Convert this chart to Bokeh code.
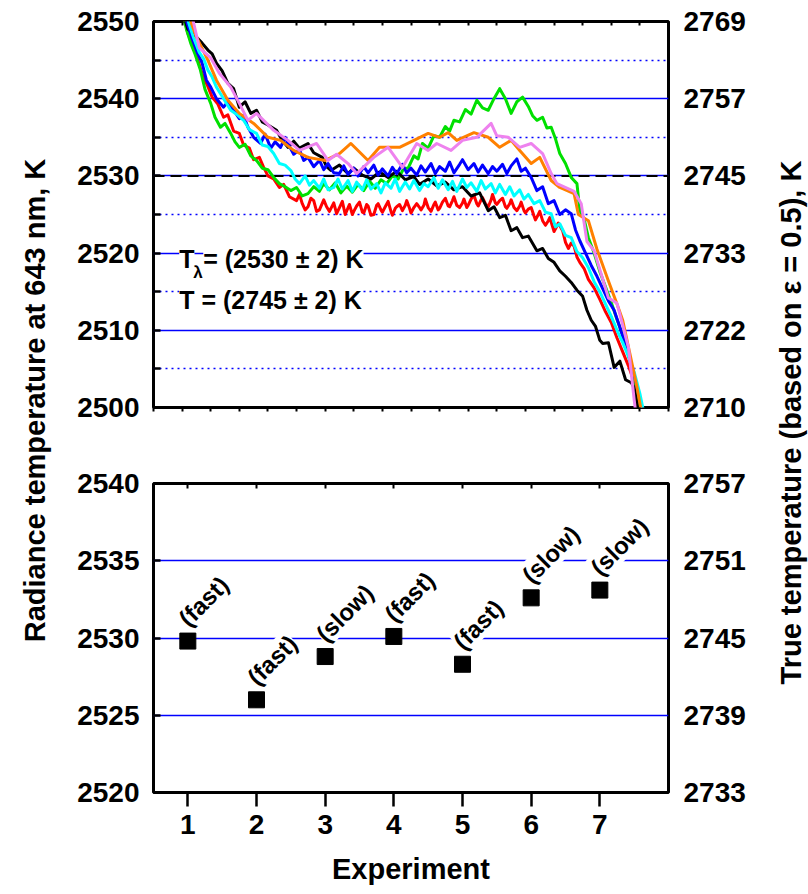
from bokeh.plotting import figure
from bokeh.models import Range1d, LinearAxis, FixedTicker, Label, Span, Grid
from bokeh.layouts import row, column
from bokeh.embed import file_html
from bokeh.resources import INLINE

FONT = "Liberation Sans"

# ---------------- data: top panel (radiance temperature traces) ----------------
black = [(1.0, 2551.5), (1.2, 2549.0), (1.45, 2548.2), (1.7, 2547.2), (1.9, 2546.3), (2.05, 2545.8),
         (2.2, 2544.6), (2.4, 2543.6), (2.6, 2542.0), (2.8, 2541.3), (3.0, 2538.9), (3.2, 2539.6),
         (3.4, 2538.1), (3.6, 2538.5), (3.8, 2537.0), (4.0, 2536.6), (4.3, 2535.9), (4.5, 2534.6),
         (4.7, 2533.7), (4.9, 2534.5), (5.1, 2533.6), (5.4, 2534.2), (5.6, 2533.0), (5.9, 2532.4),
         (6.05, 2531.2), (6.2, 2530.7), (6.5, 2531.4), (6.8, 2530.3), (7.0, 2531.0), (7.3, 2530.1),
         (7.6, 2529.6), (7.9, 2530.5), (8.2, 2529.8), (8.5, 2530.6), (8.8, 2529.5), (9.1, 2529.9),
         (9.3, 2528.9), (9.6, 2529.6), (9.9, 2528.7), (10.2, 2529.2), (10.5, 2528.2), (10.8, 2528.6),
         (11.1, 2527.4), (11.4, 2527.8), (11.7, 2525.5), (11.9, 2526.0), (12.1, 2524.6), (12.3, 2524.9),
         (12.5, 2522.9), (12.7, 2523.3), (12.9, 2522.0), (13.1, 2522.2), (13.4, 2520.3), (13.6, 2520.6),
         (13.8, 2519.3), (14.0, 2518.8), (14.2, 2517.7), (14.4, 2517.0), (14.6, 2516.2), (14.8, 2515.2),
         (15.0, 2514.4), (15.15, 2512.6), (15.3, 2511.3), (15.45, 2510.5), (15.6, 2508.7), (15.7, 2508.3),
         (15.9, 2508.4), (16.1, 2505.2), (16.3, 2506.0), (16.5, 2503.6), (16.7, 2503.2), (16.8, 2502.6),
         (16.95, 2499.5)]

red = [(1.0, 2551.5), (1.2, 2548.5), (1.4, 2546.6), (1.55, 2545.0), (1.75, 2542.7), (1.9, 2541.6),
       (2.05, 2540.2), (2.25, 2539.3), (2.45, 2537.6), (2.6, 2537.9), (2.8, 2535.8), (3.0, 2535.5),
       (3.15, 2534.0), (3.35, 2533.6), (3.5, 2532.1), (3.7, 2532.4), (3.85, 2531.1), (4.0, 2530.0),
       (4.2, 2529.6), (4.4, 2528.5), (4.55, 2528.9), (4.75, 2527.3), (5.0, 2526.8), (5.1, 2527.6),
       (5.2, 2526.4), (5.3, 2525.6), (5.4, 2526.0), (5.5, 2527.1), (5.6, 2526.8), (5.7, 2525.4),
       (5.8, 2525.6), (5.95, 2526.9), (6.05, 2526.0), (6.15, 2525.4), (6.3, 2526.5), (6.4, 2525.1),
       (6.5, 2525.9), (6.6, 2526.7), (6.7, 2525.0), (6.85, 2526.3), (6.95, 2525.0), (7.0, 2525.4),
       (7.1, 2526.1), (7.2, 2526.6), (7.3, 2525.3), (7.35, 2525.2), (7.45, 2526.3), (7.5, 2526.1),
       (7.6, 2524.9), (7.7, 2525.0), (7.8, 2526.2), (7.85, 2526.4), (7.95, 2525.6), (8.0, 2525.3),
       (8.1, 2526.0), (8.2, 2526.7), (8.3, 2525.4), (8.35, 2524.9), (8.45, 2525.8), (8.5, 2526.0),
       (8.6, 2526.3), (8.7, 2525.5), (8.8, 2526.2), (8.85, 2526.8), (8.95, 2525.8), (9.0, 2525.2),
       (9.1, 2525.9), (9.2, 2526.4), (9.3, 2525.9), (9.35, 2525.6), (9.45, 2526.2), (9.5, 2527.0),
       (9.6, 2525.9), (9.7, 2525.4), (9.8, 2526.3), (9.85, 2526.6), (9.95, 2525.6), (10.0, 2525.8),
       (10.1, 2526.6), (10.2, 2527.1), (10.3, 2526.1), (10.35, 2526.0), (10.45, 2526.8), (10.5, 2527.3),
       (10.6, 2526.2), (10.7, 2525.9), (10.8, 2526.5), (10.85, 2527.0), (10.95, 2525.9), (11.0, 2526.2),
       (11.1, 2527.0), (11.2, 2527.5), (11.3, 2526.4), (11.35, 2526.1), (11.45, 2526.9), (11.5, 2527.2),
       (11.6, 2526.4), (11.7, 2526.0), (11.8, 2526.9), (11.85, 2527.6), (11.95, 2526.5), (12.0, 2526.3),
       (12.1, 2526.8), (12.2, 2527.1), (12.3, 2526.0), (12.35, 2525.8), (12.45, 2526.4), (12.5, 2526.9),
       (12.6, 2525.9), (12.7, 2525.5), (12.8, 2526.1), (12.85, 2526.6), (12.95, 2525.5), (13.0, 2525.2),
       (13.1, 2525.7), (13.2, 2525.9), (13.3, 2524.8), (13.35, 2524.3), (13.45, 2525.0), (13.5, 2525.4),
       (13.6, 2524.2), (13.7, 2523.6), (13.8, 2524.2), (13.85, 2524.6), (13.95, 2523.4), (14.0, 2522.8),
       (14.1, 2523.5), (14.15, 2523.9), (14.3, 2522.9), (14.4, 2521.4), (14.5, 2520.6), (14.6, 2521.3),
       (14.7, 2520.9), (14.8, 2519.5), (14.9, 2518.8), (15.05, 2518.0), (15.2, 2516.6), (15.4, 2515.5),
       (15.6, 2514.0), (15.8, 2512.4), (16.0, 2511.0), (16.2, 2509.0), (16.4, 2507.2), (16.6, 2505.4),
       (16.8, 2503.3), (16.95, 2501.6), (17.1, 2499.5)]

green = [(1.0, 2551.5), (1.15, 2549.0), (1.3, 2547.2), (1.45, 2545.8), (1.64, 2543.7), (1.8, 2541.2),
         (2.0, 2539.4), (2.15, 2537.6), (2.34, 2536.3), (2.5, 2536.8), (2.7, 2535.5), (2.85, 2534.4),
         (3.0, 2533.7), (3.2, 2534.1), (3.4, 2532.6), (3.6, 2532.0), (3.8, 2531.0), (4.0, 2530.8),
         (4.2, 2529.8), (4.4, 2529.0), (4.6, 2528.6), (4.8, 2528.1), (5.0, 2528.5), (5.2, 2527.4),
         (5.4, 2527.7), (5.6, 2528.6), (5.8, 2528.0), (5.95, 2529.0), (6.15, 2528.2), (6.35, 2529.1),
         (6.55, 2527.8), (6.75, 2528.7), (6.95, 2527.9), (7.15, 2528.9), (7.35, 2528.1), (7.55, 2529.3),
         (7.75, 2528.4), (7.95, 2529.5), (8.15, 2529.0), (8.35, 2530.0), (8.55, 2529.6), (8.75, 2531.0),
         (8.9, 2531.0), (9.1, 2532.6), (9.25, 2532.2), (9.4, 2534.2), (9.6, 2533.6), (9.8, 2535.2),
         (10.0, 2535.0), (10.2, 2536.4), (10.35, 2535.8), (10.5, 2537.2), (10.7, 2537.0), (10.9, 2538.6),
         (11.1, 2538.0), (11.3, 2539.8), (11.5, 2538.8), (11.7, 2538.5), (11.9, 2540.0), (12.1, 2541.3),
         (12.3, 2540.0), (12.5, 2538.1), (12.7, 2539.6), (12.9, 2540.2), (13.1, 2539.0), (13.25, 2537.8),
         (13.4, 2537.2), (13.6, 2537.6), (13.75, 2536.2), (13.9, 2536.3), (14.05, 2534.8), (14.2, 2532.9),
         (14.4, 2531.6), (14.6, 2529.8), (14.8, 2529.0), (14.9, 2525.5), (15.05, 2524.4), (15.2, 2522.0),
         (15.4, 2520.0), (15.6, 2517.6), (15.8, 2515.6), (16.0, 2513.6), (16.2, 2511.4), (16.4, 2509.4),
         (16.6, 2506.8), (16.8, 2503.8), (17.0, 2500.2), (17.05, 2499.5)]

blue = [(1.05, 2551.5), (1.2, 2549.5), (1.35, 2547.8), (1.54, 2545.9), (1.7, 2544.6), (1.85, 2542.4),
        (2.0, 2541.5), (2.2, 2540.0), (2.45, 2538.9), (2.6, 2539.6), (2.8, 2538.5), (3.0, 2537.4),
        (3.15, 2537.8), (3.3, 2536.3), (3.5, 2535.0), (3.74, 2534.2), (3.9, 2535.4), (4.1, 2533.6),
        (4.25, 2534.4), (4.44, 2533.7), (4.6, 2535.0), (4.7, 2534.2), (4.9, 2532.8), (5.1, 2533.4),
        (5.25, 2532.0), (5.4, 2532.4), (5.6, 2531.2), (5.8, 2532.0), (5.95, 2530.8), (6.1, 2531.6),
        (6.3, 2530.4), (6.5, 2530.3), (6.65, 2531.3), (6.8, 2530.2), (7.0, 2531.0), (7.15, 2530.0),
        (7.35, 2531.2), (7.5, 2530.4), (7.7, 2531.4), (7.85, 2530.1), (8.0, 2530.9), (8.2, 2530.0),
        (8.35, 2531.1), (8.5, 2530.3), (8.7, 2531.5), (8.85, 2530.4), (9.0, 2531.0), (9.2, 2530.1),
        (9.35, 2531.3), (9.5, 2530.5), (9.7, 2531.6), (9.85, 2530.3), (10.0, 2531.2), (10.2, 2530.6),
        (10.35, 2531.8), (10.5, 2530.4), (10.7, 2531.5), (10.8, 2532.1), (11.0, 2530.8), (11.2, 2531.6),
        (11.35, 2530.5), (11.5, 2531.4), (11.7, 2530.3), (11.85, 2531.2), (12.0, 2530.6), (12.2, 2531.5),
        (12.35, 2530.3), (12.5, 2531.3), (12.7, 2532.2), (12.85, 2530.6), (13.0, 2531.0), (13.2, 2529.8),
        (13.4, 2528.1), (13.6, 2528.6), (13.8, 2526.4), (14.0, 2526.8), (14.2, 2525.0), (14.4, 2525.6),
        (14.6, 2525.1), (14.75, 2523.0), (14.9, 2521.6), (15.1, 2520.0), (15.3, 2518.4), (15.5, 2517.0),
        (15.7, 2515.4), (15.9, 2513.8), (16.1, 2512.6), (16.3, 2510.4), (16.5, 2508.0), (16.7, 2505.6),
        (16.85, 2503.4), (17.0, 2501.0), (17.05, 2499.5)]

cyan = [(1.1, 2551.5), (1.25, 2549.6), (1.4, 2547.9), (1.6, 2546.0), (1.75, 2545.2), (1.9, 2543.7),
        (2.05, 2542.8), (2.2, 2541.5), (2.45, 2540.0), (2.7, 2538.5), (2.9, 2538.0), (3.15, 2537.2),
        (3.35, 2536.0), (3.6, 2535.5), (3.8, 2534.0), (4.0, 2533.8), (4.2, 2532.9), (4.4, 2531.6),
        (4.6, 2531.4), (4.8, 2530.7), (4.95, 2529.6), (5.1, 2529.0), (5.3, 2530.0), (5.45, 2528.8),
        (5.6, 2529.4), (5.8, 2528.4), (5.95, 2529.6), (6.1, 2528.2), (6.3, 2528.5), (6.45, 2529.6),
        (6.6, 2528.3), (6.8, 2529.4), (6.95, 2528.0), (7.1, 2529.2), (7.3, 2528.2), (7.45, 2529.5),
        (7.6, 2528.3), (7.8, 2529.0), (7.95, 2527.8), (8.1, 2529.1), (8.3, 2528.4), (8.45, 2529.6),
        (8.6, 2528.0), (8.8, 2529.2), (8.95, 2528.3), (9.1, 2529.4), (9.3, 2528.1), (9.45, 2529.0),
        (9.6, 2528.6), (9.8, 2529.8), (9.95, 2528.4), (10.1, 2529.5), (10.3, 2528.2), (10.45, 2529.3),
        (10.6, 2528.0), (10.8, 2529.6), (10.95, 2528.5), (11.1, 2529.1), (11.3, 2528.0), (11.45, 2529.4),
        (11.6, 2528.3), (11.8, 2529.0), (11.95, 2527.8), (12.1, 2528.9), (12.3, 2527.6), (12.45, 2528.6),
        (12.6, 2527.4), (12.8, 2528.2), (12.95, 2527.0), (13.1, 2527.6), (13.3, 2526.4), (13.5, 2526.8),
        (13.7, 2525.3), (13.9, 2525.1), (14.05, 2523.4), (14.2, 2523.8), (14.4, 2522.3), (14.6, 2522.0),
        (14.8, 2520.2), (15.0, 2519.4), (15.2, 2518.1), (15.4, 2516.3), (15.6, 2515.0), (15.8, 2513.4),
        (16.0, 2511.8), (16.2, 2510.0), (16.4, 2508.4), (16.6, 2506.6), (16.8, 2504.6), (17.0, 2501.8),
        (17.1, 2500.0), (17.15, 2499.5)]

orange = [(1.15, 2551.5), (1.5, 2548.0), (1.9, 2545.0), (2.2, 2542.4), (2.6, 2539.8), (3.0, 2538.1),
          (3.5, 2536.8), (4.0, 2535.0), (4.44, 2534.6), (4.9, 2533.3), (5.4, 2532.4), (6.0, 2532.0),
          (6.5, 2532.9), (6.9, 2534.2), (7.5, 2532.0), (7.9, 2533.7), (8.6, 2533.7), (9.1, 2534.6),
          (9.6, 2535.5), (10.0, 2535.0), (10.3, 2535.6), (10.6, 2534.6), (11.2, 2535.6), (11.7, 2535.0),
          (12.1, 2533.7), (12.5, 2534.6), (12.8, 2533.3), (13.2, 2531.6), (13.5, 2532.4), (13.9, 2529.4),
          (14.2, 2528.5), (14.7, 2527.7), (14.85, 2525.0), (15.2, 2524.2), (15.5, 2520.5), (15.9, 2516.4),
          (16.2, 2513.4), (16.4, 2511.3), (16.65, 2507.0), (16.9, 2502.6), (17.05, 2499.5)]

violet = [(1.3, 2551.5), (1.6, 2546.6), (2.0, 2545.3), (2.3, 2543.3), (2.7, 2541.5), (3.0, 2539.4),
          (3.3, 2537.2), (3.6, 2538.1), (4.2, 2535.9), (4.7, 2534.6), (5.1, 2533.3), (5.7, 2534.2),
          (6.1, 2532.0), (6.4, 2532.8), (6.8, 2531.6), (7.1, 2530.3), (7.7, 2532.4), (8.2, 2533.7),
          (8.7, 2531.1), (9.2, 2534.2), (9.6, 2533.3), (9.9, 2534.2), (10.4, 2533.3), (10.8, 2534.6),
          (11.3, 2535.0), (11.8, 2536.8), (12.0, 2535.2), (12.4, 2535.0), (12.8, 2533.7), (13.2, 2534.2),
          (13.6, 2532.9), (13.9, 2530.3), (14.1, 2529.0), (14.7, 2528.0), (14.95, 2526.4), (15.15, 2521.5),
          (15.4, 2520.3), (15.9, 2514.2), (16.2, 2513.5), (16.6, 2507.8), (16.8, 2501.0), (16.85, 2499.5)]

traces = [(red, "#ff0000"), (green, "#00e000"), (black, "#000000"), (blue, "#0000ff"),
          (cyan, "#00ffff"), (orange, "#ff8000"), (violet, "#ee82ee")]

ref_radiance = 2530
time_ticks = list(range(0, 19))
top_ticks = [2500, 2510, 2520, 2530, 2540, 2550]
top_minor = [2505, 2515, 2525, 2535, 2545]
top_true_labels = ["2710", "2722", "2733", "2745", "2757", "2769"]
annot_1 = "(2530 \u00b1 2) K"
annot_2 = "T = (2745 \u00b1 2) K"

# ---------------- data: bottom panel ----------------
experiment = [1, 2, 3, 4, 5, 6, 7]
radiance = [2529.8, 2526.0, 2528.8, 2530.1, 2528.3, 2532.6, 2533.1]
speed = ["(fast)", "(fast)", "(slow)", "(fast)", "(fast)", "(slow)", "(slow)"]
bot_ticks = [2520, 2525, 2530, 2535, 2540]
bot_grid = [2525, 2530, 2535]
bot_true_labels = ["2733", "2739", "2745", "2751", "2757"]

GRID_BLUE = "#0000ff"
TICK_PX = "28px"
TITLE_PX = "29px"


def tick_label_style(ax):
    ax.major_label_text_font = FONT
    ax.major_label_text_font_size = TICK_PX
    ax.major_label_text_font_style = "bold"
    ax.major_label_text_color = "black"


def hidden_labels(ax):
    ax.major_label_text_color = None
    ax.major_label_text_font_size = "10px"
    ax.major_label_standoff = 0


# ---------------- top figure ----------------
top = figure(width=710, height=447, x_range=Range1d(0, 18), y_range=Range1d(2500, 2550),
             output_backend="svg", toolbar_location=None,
             x_axis_location=None, y_axis_location=None,
             min_border_left=93, min_border_right=102, min_border_top=21, min_border_bottom=40)
top.grid.visible = False
top.outline_line_color = "black"
top.outline_line_width = 3
top.background_fill_color = "white"
top.border_fill_color = "white"

top.add_layout(Grid(dimension=1, ticker=FixedTicker(ticks=[2510, 2520, 2530, 2540]),
                    grid_line_color=GRID_BLUE, grid_line_width=1.5))
top.add_layout(Grid(dimension=1, ticker=FixedTicker(ticks=top_minor),
                    grid_line_color=GRID_BLUE, grid_line_width=1.5, grid_line_dash="2 4"))
top.add_layout(Span(location=ref_radiance, dimension="width", line_color="black",
                    line_width=2, line_dash="11 6", level="underlay"))

for data, col in traces:
    xs = [d[0] for d in data]
    ys = [d[1] for d in data]
    top.line(xs, ys, line_color=col, line_width=3, line_join="round")

ax = LinearAxis(ticker=FixedTicker(ticks=top_ticks, minor_ticks=top_minor))
ax.axis_line_color = None
ax.major_tick_in = 7; ax.major_tick_out = 0; ax.minor_tick_in = 7; ax.minor_tick_out = 0
ax.major_tick_line_width = 2.5; ax.minor_tick_line_width = 2.5
ax.major_label_standoff = 14
tick_label_style(ax)
top.add_layout(ax, "left")

ax = LinearAxis(ticker=FixedTicker(ticks=top_ticks),
                major_label_overrides=dict(zip(top_ticks, top_true_labels)))
ax.axis_line_color = None
ax.major_tick_in = 0; ax.major_tick_out = 0; ax.minor_tick_in = 0; ax.minor_tick_out = 0
ax.major_tick_line_color = None; ax.minor_tick_line_color = None
ax.major_label_standoff = 15
tick_label_style(ax)
top.add_layout(ax, "right")

ax = LinearAxis(ticker=FixedTicker(ticks=time_ticks))
ax.axis_line_color = None
ax.major_tick_in = 4; ax.major_tick_out = 0; ax.minor_tick_line_color = None
ax.major_tick_line_width = 2
hidden_labels(ax)
top.add_layout(ax, "above")

ax = LinearAxis(ticker=FixedTicker(ticks=time_ticks))
ax.axis_line_color = None
ax.major_tick_in = 0; ax.major_tick_out = 4; ax.minor_tick_line_color = None
ax.major_tick_line_width = 2
hidden_labels(ax)
top.add_layout(ax, "below")

ann_x = 0.9
ann_y1 = 2519.3
ann_y2 = 2513.9
lab_kw = dict(text_font=FONT, text_font_size="25px", text_font_style="bold",
              text_color="black", text_baseline="middle", text_align="left")
top.add_layout(Label(x=ann_x, y=ann_y1, text="T", background_fill_color="white", **lab_kw))
top.add_layout(Label(x=ann_x, y=ann_y1, x_offset=24, text="= " + annot_1,
                     background_fill_color="white", **lab_kw))
top.add_layout(Label(x=ann_x, y=ann_y1, x_offset=14, y_offset=-14, text="\u03bb",
                     text_font=FONT, text_font_size="17px", text_font_style="bold",
                     text_color="black", text_baseline="middle", text_align="left"))
top.add_layout(Label(x=ann_x, y=ann_y2, text=annot_2, background_fill_color="white", **lab_kw))

# ---------------- bottom figure ----------------
bot = figure(width=710, height=447, x_range=Range1d(0.5, 8.0), y_range=Range1d(2520, 2540),
             output_backend="svg", toolbar_location=None,
             x_axis_location=None, y_axis_location=None,
             min_border_left=93, min_border_right=102, min_border_top=36, min_border_bottom=102)
bot.grid.visible = False
bot.outline_line_color = "black"
bot.outline_line_width = 3
bot.border_fill_color = "white"

bot.add_layout(Grid(dimension=1, ticker=FixedTicker(ticks=bot_grid),
                    grid_line_color=GRID_BLUE, grid_line_width=1.5))

bot.scatter(experiment, radiance, marker="square", size=16, color="black")

for e, r, s in zip(experiment, radiance, speed):
    bot.add_layout(Label(x=e, y=r, text=s, angle=45, angle_units="deg",
                         x_offset=-5, y_offset=19, text_font=FONT, text_font_size="24px",
                         text_font_style="bold", text_color="black",
                         text_align="left", text_baseline="middle",
                         background_fill_color="white"))

ax = LinearAxis(ticker=FixedTicker(ticks=bot_ticks))
ax.axis_line_color = None
ax.major_tick_in = 7; ax.major_tick_out = 0; ax.minor_tick_line_color = None
ax.major_tick_line_width = 2.5
ax.major_label_standoff = 14
tick_label_style(ax)
bot.add_layout(ax, "left")

ax = LinearAxis(ticker=FixedTicker(ticks=bot_ticks),
                major_label_overrides=dict(zip(bot_ticks, bot_true_labels)))
ax.axis_line_color = None
ax.major_tick_in = 0; ax.major_tick_out = 0
ax.major_tick_line_color = None; ax.minor_tick_line_color = None
ax.major_label_standoff = 15
tick_label_style(ax)
bot.add_layout(ax, "right")

ax = LinearAxis(ticker=FixedTicker(ticks=experiment))
ax.axis_line_color = None
ax.major_tick_in = 5; ax.major_tick_out = 0; ax.minor_tick_line_color = None
ax.major_tick_line_width = 2
hidden_labels(ax)
bot.add_layout(ax, "above")

ax = LinearAxis(ticker=FixedTicker(ticks=experiment), axis_label="Experiment")
ax.axis_line_color = None
ax.major_tick_in = 0; ax.major_tick_out = 14; ax.minor_tick_line_color = None
ax.major_tick_line_width = 2.5
ax.major_label_standoff = 8
tick_label_style(ax)
ax.axis_label_text_font = FONT
ax.axis_label_text_font_size = TITLE_PX
ax.axis_label_text_font_style = "bold"
ax.axis_label_text_color = "black"
ax.axis_label_standoff = 16
bot.add_layout(ax, "below")

# ---------------- side titles ----------------
def side_fig(w):
    f = figure(width=w, height=894, x_range=Range1d(0, w), y_range=Range1d(0, 894),
               output_backend="svg", toolbar_location=None,
               x_axis_location=None, y_axis_location=None, min_border=0)
    f.grid.visible = False
    f.outline_line_color = None
    return f

left_t = side_fig(60)
left_t.add_layout(Label(x=34, y=894 - 400, text="Radiance temperature at 643 nm, K",
                        angle=90, angle_units="deg", text_align="center", text_baseline="middle",
                        text_font=FONT, text_font_size=TITLE_PX, text_font_style="bold",
                        text_color="black"))
right_t = side_fig(38)
right_t.add_layout(Label(x=20, y=894 - 418, text="True  temperature (based on \u03b5 = 0.5), K",
                         angle=90, angle_units="deg", text_align="center", text_baseline="middle",
                         text_font=FONT, text_font_size=TITLE_PX, text_font_style="bold",
                         text_color="black"))

layout = row(left_t, column(top, bot), right_t)
open("out.html", "w").write(file_html(layout, INLINE))
